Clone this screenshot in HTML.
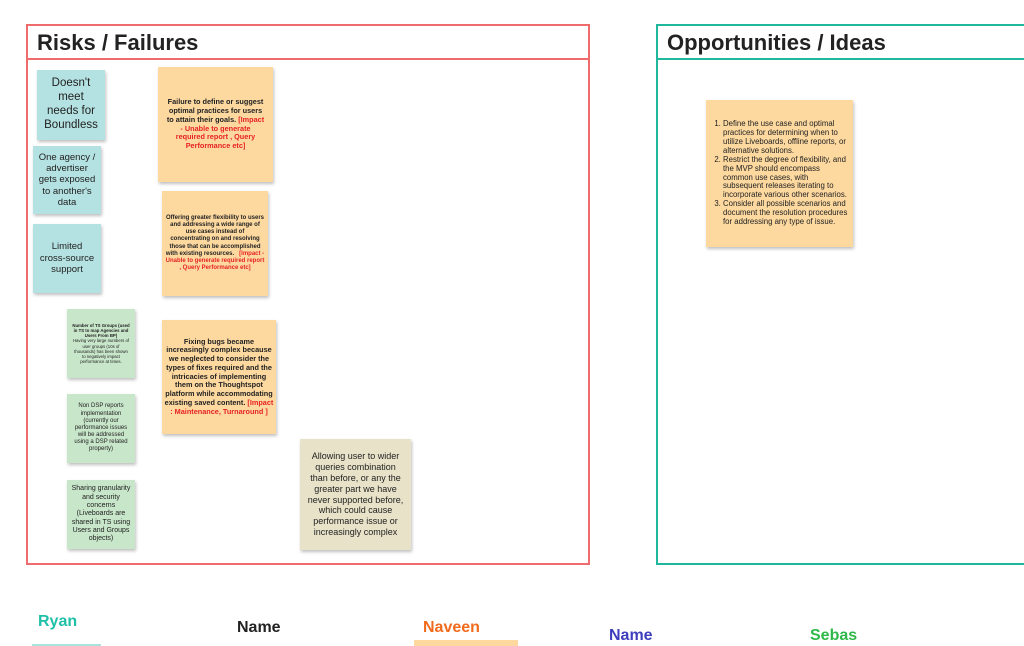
<!DOCTYPE html>
<html><head><meta charset="utf-8"><style>
body{margin:0;width:1024px;height:646px;background:#fff;position:relative;overflow:hidden;font-family:"Liberation Sans",sans-serif}
.a{position:absolute}
.frame{position:absolute;box-sizing:border-box;border:2px solid}
.hdr{position:absolute;left:0;right:0;top:0;height:34px;box-sizing:border-box;border-bottom:2px solid}
.hdr span{position:absolute;left:9px;top:4px;font-size:22px;font-weight:bold;color:#222}
.st{position:absolute;box-sizing:border-box;display:flex;align-items:center;justify-content:center;text-align:center;box-shadow:1px 2px 3px rgba(0,0,0,.25);color:#222;line-height:1.2}
.r{color:#e52222}
.nm{position:absolute;font-size:16px;font-weight:bold}
</style></head><body>
<div class="frame" style="left:26px;top:24px;width:564px;height:541px;border-color:#f06b6b">
<div class="hdr" style="border-color:#f06b6b"><span>Risks / Failures</span></div></div>
<div class="frame" style="left:656px;top:24px;width:380px;height:541px;border-color:#1fb89c">
<div class="hdr" style="border-color:#1fb89c"><span>Opportunities / Ideas</span></div></div>

<div class="st" style="left:37px;top:70px;width:68px;height:70px;background:#b4e1e1;font-size:11.5px;padding:0 6px">Doesn't meet needs for Boundless</div>
<div class="st" style="left:33px;top:146px;width:68px;height:68px;background:#b4e1e1;font-size:9.5px;padding:0 4px">One agency / advertiser gets exposed to another's data</div>
<div class="st" style="left:33px;top:224px;width:68px;height:69px;background:#b4e1e1;font-size:9.5px;padding:0 2px">Limited<br>cross-source<br>support</div>

<div class="st" style="left:67px;top:309px;width:68px;height:69px;background:#c8e6c9;font-size:4.3px;padding:2px 5px"><div><b>Number of TS Groups (used in TS to map Agencies and Users From BP)</b><br>Having very large numbers of user groups (10s of thousands) has been shown to negatively impact performance at times.</div></div>
<div class="st" style="left:67px;top:394px;width:68px;height:69px;background:#c8e6c9;font-size:6px;padding:2px 5px">Non DSP reports implementation (currently our performance issues will be addressed using a DSP related property)</div>
<div class="st" style="left:67px;top:480px;width:68px;height:69px;background:#c8e6c9;font-size:7px;padding:2px 3px">Sharing granularity and security concerns (Liveboards are shared in TS using Users and Groups objects)</div>

<div class="st" style="left:158px;top:67px;width:115px;height:115px;background:#fdd9a0;font-size:7.3px;padding:4px 7px;font-weight:bold"><div>Failure to define or suggest optimal practices for users to attain their goals. <span class="r">[Impact - Unable to generate required report , Query Performance etc]</span></div></div>
<div class="st" style="left:162px;top:191px;width:106px;height:105px;background:#fdd9a0;font-size:6px;padding:4px 3px;font-weight:bold"><div>Offering greater flexibility to users and addressing a wide range of use cases instead of concentrating on and resolving those that can be accomplished with existing resources. &nbsp;&nbsp;<span class="r">[Impact - Unable to generate required report , Query Performance etc]</span></div></div>
<div class="st" style="left:162px;top:320px;width:114px;height:114px;background:#fdd9a0;font-size:7.3px;padding:4px 2px;font-weight:bold"><div>Fixing bugs became increasingly complex because we neglected to consider the types of fixes required and the intricacies of implementing them on the Thoughtspot platform while accommodating existing saved content. <span class="r">[Impact : Maintenance, Turnaround ]</span></div></div>
<div class="st" style="left:300px;top:439px;width:111px;height:111px;background:#e8e2c8;font-size:9px;padding:4px 6px">Allowing user to wider queries combination than before, or any the greater part we have never supported before, which could cause performance issue or increasingly complex</div>

<div class="st" style="left:706px;top:100px;width:147px;height:147px;background:#fdd9a0;font-size:7.8px;text-align:left;padding:4px 3px 4px 4px;line-height:1.15"><ol style="margin:0;padding-left:13px"><li>Define the use case and optimal practices for determining when to utilize Liveboards, offline reports, or alternative solutions.</li><li>Restrict the degree of flexibility, and the MVP should encompass common use cases, with subsequent releases iterating to incorporate various other scenarios.</li><li>Consider all possible scenarios and document the resolution procedures for addressing any type of issue.</li></ol></div>

<div class="nm" style="left:38px;top:613px;color:#1fc0a8">Ryan</div>
<div class="a" style="left:32px;top:644px;width:69px;height:2px;background:#a8e4dc"></div>
<div class="nm" style="left:237px;top:619px;color:#222">Name</div>
<div class="a" style="left:414px;top:640px;width:104px;height:6px;background:#fdd9a0"></div>
<div class="nm" style="left:423px;top:619px;color:#f26b1d">Naveen</div>
<div class="nm" style="left:609px;top:627px;color:#3d3dbd">Name</div>
<div class="nm" style="left:810px;top:627px;color:#2eb84a">Sebas</div>
</body></html>
